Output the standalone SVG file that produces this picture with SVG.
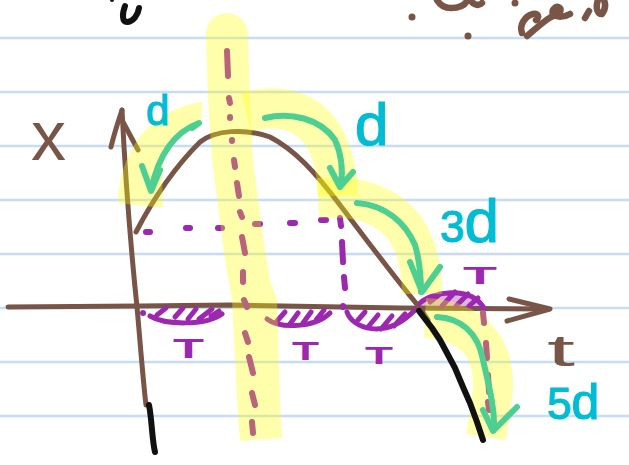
<svg xmlns="http://www.w3.org/2000/svg" width="629" height="465" viewBox="0 0 629 465">
<style>
.rule{stroke:#c6dcf8;stroke-width:2.5}
.br{fill:none;stroke:#795548;stroke-width:5;stroke-linecap:round;stroke-linejoin:round}
.bs{fill:none;stroke:#795548;stroke-width:6.5;stroke-linecap:round;stroke-linejoin:round}
.bk{fill:none;stroke:#111;stroke-width:6;stroke-linecap:round;stroke-linejoin:round}
.pu{fill:none;stroke:#9c27b0;stroke-width:5;stroke-linecap:round;stroke-linejoin:round}
.pd{fill:none;stroke:#9c27b0;stroke-width:6;stroke-linecap:round}
.hl{fill:#ffff00;fill-opacity:0.33;stroke:none}
.hs{fill:none;stroke:#ffff00;stroke-opacity:0.33;stroke-width:40;stroke-linecap:butt}
.pk{fill:none;stroke:#b8647a;stroke-width:6;stroke-linecap:round}
.gr{fill:none;stroke:#4dcf91;stroke-width:6;stroke-linecap:round;stroke-linejoin:round}
.cy{fill:#00bcd4;stroke:#00bcd4;stroke-width:1.2;font-family:"Liberation Sans",Arial,sans-serif}
.bt{fill:#795548;font-family:"Liberation Sans",Arial,sans-serif}
.tt{fill:#9c27b0;font-family:"Liberation Sans",Arial,sans-serif;font-weight:bold}
</style>
<rect width="629" height="465" fill="#ffffff"/>
<g id="ruled-lines">
<line class="rule" x1="0" y1="38" x2="629" y2="38"/>
<line class="rule" x1="0" y1="92" x2="629" y2="92"/>
<line class="rule" x1="0" y1="146" x2="629" y2="146"/>
<line class="rule" x1="0" y1="200" x2="629" y2="200"/>
<line class="rule" x1="0" y1="254" x2="629" y2="254"/>
<line class="rule" x1="0" y1="308" x2="629" y2="308"/>
<line class="rule" x1="0" y1="362" x2="629" y2="362"/>
<line class="rule" x1="0" y1="416" x2="629" y2="416"/>
</g>
<g id="top-scribbles">
<path class="bk" stroke-width="7" d="M125,6 C122,14 122,22 127,22 C133,22 138,15 139,8"/>
<circle cx="112" cy="0" r="2" fill="#111"/>
<path class="bs" d="M437,0 C440,5 445,8 451,8 C458,8 464,6 467,1 M470,0 C473,4 478,7 482,3"/>
<circle cx="515" cy="3" r="3.5" fill="#795548"/>
<circle cx="412" cy="17" r="3.5" fill="#795548"/>
<circle cx="468" cy="36" r="3.5" fill="#795548"/>
<path class="bs" d="M522,33 C519,25 525,16 533,14 C538,13 540,17 536,20 M527,36 C534,30 544,21 551,17 C557,14 563,11 560,8 C556,5 551,10 553,14 C557,18 565,17 570,14"/>
<path class="bs" d="M585,18 L589,11 M598,0 C595,8 598,15 602,14 C605,10 606,5 604,0"/>
</g>
<g id="axes-curve">
<path class="br" d="M8,307 L140,306 L230,305 L400,308 L548,309"/>
<path class="br" d="M509,299 L550,309 L507,321"/>
<path class="br" d="M122,110 C125,170 130,240 137,307 C140,340 143,380 146,405"/>
<path class="br" d="M111,147 C114,134 118,122 122,110 M123,122 L138,150"/>
<path class="br" d="M136,232 C150,205 170,172 200,142 C215,130 245,128 270,137 C295,150 315,172 340,205 C365,238 395,278 420,308 L428,320"/>
</g>
<g id="purple-dashes">
<path class="pd" d="M146,232 L150,232 M186,228 L190,228 M218,228 L222,228 M255,224 L260,224 M290,223 L295,223 M321,220 L326,220 M340,218 L341,226 M342,242 L343,262 M344,277 L345,288 M343,306 L343,307"/>
</g>
<g id="purple-arcs">
<circle cx="143" cy="313" r="3" fill="#9c27b0"/>
<path class="pu" d="M150,316 C165,325 205,326 222,314 M157,315 L166,308 M175,317 L183,308 M188,319 L196,309 M199,319 L212,309 M211,316 L219,311"/>
<path class="pu" d="M267,319 C280,329 315,328 330,313 M277,321 L285,312 M290,324 L298,313 M303,323 L311,312 M316,320 L324,310"/>
<path class="pu" d="M347,312 C352,328 385,341 415,310 M358,320 L365,312 M368,327 L378,315 M381,329 L392,316 M394,326 L405,314"/>
<path d="M420,306 C432,292 470,285 484,308 Z" fill="#9c27b0" fill-opacity="0.35"/>
<path class="pu" d="M420,303 C432,292 470,285 484,308 M430,302 L440,294 M442,306 L455,292 M456,306 L468,294 M469,306 L478,298"/>
</g>
<g id="highlights">
<path class="hl" d="M206,35 C206,6 247,6 248,35 L250,100 L253,160 L262,230 L270,280 L277,300 L280,400 L282,438 L240,441 L237,400 L232,300 L225,260 L212,160 L208,100 Z"/>
<path class="hl" d="M118,203 C120,160 140,112 202,102 L201,124 C175,128 162,150 162,175 L163,208 Z"/>
<path class="hs" d="M246,112 C300,98 336,125 338,196"/>
<path class="hs" d="M318,198 C372,194 422,212 422,294"/>
<path class="hs" d="M425,318 C470,320 495,345 493,390 L486,437"/>
</g>
<g id="pink-dashes">
<path class="pk" d="M227,51 L228,76 M229,98 L230,103 M230,117 L230,118 M232,140 L232,141 M234,160 L235,167 M237,183 L239,196 M240,212 L242,217 M242,237 L245,253 M243,272 L243,282 M244,300 L247,307 M245,333 L248,342 M249,357 L253,373 M252,393 L255,405 M252,422 L253,433"/>
<path class="pk" d="M483,313 L484,323 M486,343 L487,358 M488,375 L489,392 M488,402 L489,410"/>
</g>
<g id="arrows">
<path class="gr" d="M192,128 L199,123 C180,130 160,148 151,190 M142,166 L151,191 L160,170"/>
<path class="gr" d="M265,118 C290,112 320,118 335,140 C342,155 343,170 341,186 M330,168 L340,187 L353,172"/>
<path class="gr" d="M357,203 C385,205 405,222 415,245 C420,262 421,278 421,292 M410,262 L422,292 L440,267"/>
<path class="gr" d="M437,317 C460,318 478,332 483,360 C490,390 495,410 494,430 M483,410 L493,431 L517,407"/>
</g>
<g id="black-strokes">
<path class="bk" d="M419,311 L432,328 L440,340 L447,353 L455,368 L463,387 L470,403 L477,422 L483,440"/>
<path class="bk" d="M149,405 C152,420 152,440 155,452"/>
</g>
<g id="labels">
<text class="bt" x="31" y="160" font-size="70">x</text>
<text class="bt" x="547" y="366" font-size="44" textLength="28" lengthAdjust="spacingAndGlyphs">t</text>
<text class="cy" x="146" y="125" font-size="42">d</text>
<text class="cy" x="355" y="145" font-size="60">d</text>
<text class="cy" x="440" y="242"><tspan font-size="44">3</tspan><tspan font-size="62">d</tspan></text>
<text class="cy" x="547" y="419"><tspan font-size="44">5</tspan><tspan font-size="50">d</tspan></text>
<text class="tt" x="173" y="358" font-size="27" textLength="31" lengthAdjust="spacingAndGlyphs">T</text>
<text class="tt" x="292" y="360" font-size="25" textLength="27" lengthAdjust="spacingAndGlyphs">T</text>
<text class="tt" x="365" y="364" font-size="24" textLength="28" lengthAdjust="spacingAndGlyphs">T</text>
<text class="tt" x="463" y="284" font-size="23" textLength="34" lengthAdjust="spacingAndGlyphs">T</text>
</g>
</svg>
